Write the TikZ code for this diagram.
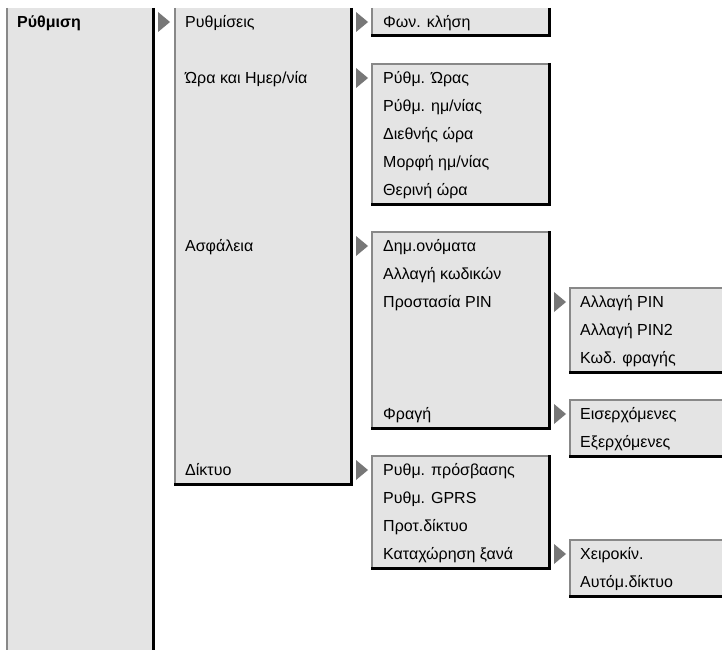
\documentclass[tikz,border=0pt]{standalone}
\usepackage{fontspec}
\setmainfont{Liberation Sans}
\definecolor{panelfill}{HTML}{E4E4E4}
\definecolor{paneledge}{HTML}{888888}
\definecolor{trifill}{HTML}{777777}
\newcommand\menutri[2]{\fill[marker] (#1,{22+28*#2-10}) -- ({#1+12},{22+28*#2}) -- (#1,{22+28*#2+10}) -- cycle;}
\begin{document}
\begin{tikzpicture}[x=1pt,y=-1pt,
  panel/.style={fill=panelfill,draw=none},
  lightedge/.style={draw=paneledge,line width=2pt},
  darkedge/.style={draw=black,line width=3pt},
  marker/.style={fill=trifill,draw=none},
  item/.style={anchor=base west,inner sep=0pt,font=\fontsize{16}{19}\selectfont},
  head/.style={anchor=base west,inner sep=0pt,font=\fontsize{16}{19}\selectfont\bfseries}]
\useasboundingbox (0,0) rectangle (722,650);
\fill[white] (0,0) rectangle (722,650);
% column 1
\fill[panel] (7,8) rectangle (153,650);
\draw[lightedge] (7,8) -- (7,650);
\draw[darkedge] (153,8) -- (153,650);
% column 2
\fill[panel] (175,8) rectangle (351,484);
\draw[lightedge] (175,8) -- (175,484);
\draw[darkedge] (351,8) -- (351,485.5);
\draw[darkedge] (174,484) -- (352.5,484);
% column 3 boxes
\fill[panel] (372,8) rectangle (549,36);
\draw[lightedge] (372,8) -- (372,36);
\draw[darkedge] (549,8) -- (549,37.5);
\draw[darkedge] (371,36) -- (550.5,36);
\foreach \ya/\yb in {64/204,232/428,456/568}{
  \fill[panel] (372,\ya) rectangle (549,\yb);
  \draw[lightedge] (372,\yb) -- (372,\ya) -- (549,\ya);
  \draw[darkedge] (549,\ya-1) -- (549,\yb+1.5);
  \draw[darkedge] (371,\yb) -- (550.5,\yb);
}
% column 4 boxes
\foreach \ya/\yb in {288/372,400/456,540/596}{
  \fill[panel] (570,\ya) rectangle (722,\yb);
  \draw[lightedge] (570,\yb) -- (570,\ya) -- (722,\ya);
  \draw[darkedge] (569,\yb) -- (722,\yb);
}
% markers
\menutri{158}{0}
\menutri{356}{0}
\menutri{356}{2}
\menutri{356}{8}
\menutri{356}{16}
\menutri{554}{10}
\menutri{554}{14}
\menutri{554}{19}
% texts
\node[head] (c1r0) at (17,27.5) {Ρύθμιση};
\node[item] (c2r0) at (185,27.5) {Ρυθμίσεις};
\node[item] (c2r2) at (185,83.5) {Ώρα και Ημερ/νία};
\node[item] (c2r8) at (185,251.5) {Ασφάλεια};
\node[item] (c2r16) at (185,475.5) {Δίκτυο};
\node[item] (c3r0) at (383,27.5) {Φων. κλήση};
\node[item] (c3r2) at (383,83.5) {Ρύθμ. Ώρας};
\node[item] (c3r3) at (383,111.5) {Ρύθμ. ημ/νίας};
\node[item] (c3r4) at (383,139.5) {Διεθνής ώρα};
\node[item] (c3r5) at (383,167.5) {Μορφή ημ/νίας};
\node[item] (c3r6) at (383,195.5) {Θερινή ώρα};
\node[item] (c3r8) at (383,251.5) {Δημ.ονόματα};
\node[item] (c3r9) at (383,279.5) {Αλλαγή κωδικών};
\node[item] (c3r10) at (383,307.5) {Προστασία PIN};
\node[item] (c3r14) at (383,419.5) {Φραγή};
\node[item] (c3r16) at (383,475.5) {Ρυθμ. πρόσβασης};
\node[item] (c3r17) at (383,503.5) {Ρυθμ. GPRS};
\node[item] (c3r18) at (383,531.5) {Προτ.δίκτυο};
\node[item] (c3r19) at (383,559.5) {Καταχώρηση ξανά};
\node[item] (c4r10) at (580,307.5) {Αλλαγή PIN};
\node[item] (c4r11) at (580,335.5) {Αλλαγή PIN2};
\node[item] (c4r12) at (580,363.5) {Κωδ. φραγής};
\node[item] (c4r14) at (580,419.5) {Εισερχόμενες};
\node[item] (c4r15) at (580,447.5) {Εξερχόμενες};
\node[item] (c4r19) at (580,559.5) {Χειροκίν.};
\node[item] (c4r20) at (580,587.5) {Αυτόμ.δίκτυο};
\end{tikzpicture}
\end{document}
